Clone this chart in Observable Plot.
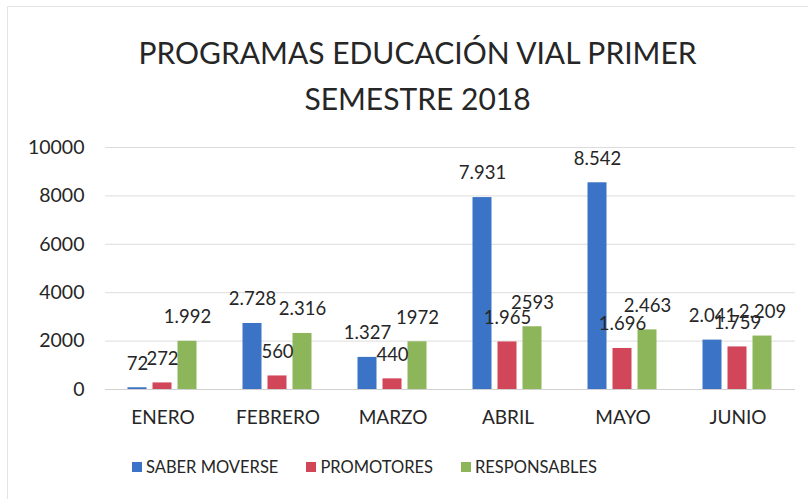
<!DOCTYPE html>
<html><head><meta charset="utf-8">
<script src="https://cdn.jsdelivr.net/npm/d3@7"></script>
<script src="https://cdn.jsdelivr.net/npm/@observablehq/plot@0.6"></script>
<style>
body{margin:0;background:#fff;font-family:Lato,sans-serif;color:#262626;width:809px;height:499px;position:relative;overflow:hidden}
#frame{position:absolute;left:7px;top:6px;width:800px;height:500px;border-left:1px solid #e4e4e4;border-top:1px solid #e4e4e4}
#title{position:absolute;left:0;width:835px;top:29px;text-align:center;font-size:30px;line-height:46px}
#chart{position:absolute;left:0;top:120px}
#legend{position:absolute;left:132px;top:457px;display:flex;font-size:16.5px;line-height:20px}
#legend .item{display:flex;align-items:center;margin-right:28px}
#legend .sw{width:10px;height:10px;margin-right:4px}
</style></head>
<body>
<div id="frame"></div>
<div id="title">PROGRAMAS EDUCACIÓN VIAL PRIMER<br>SEMESTRE 2018</div>
<div id="chart"></div>
<div id="legend"></div>
<script>
const months = ["ENERO","FEBRERO","MARZO","ABRIL","MAYO","JUNIO"];
const series = ["SABER MOVERSE","PROMOTORES","RESPONSABLES"];
const saber = [72,2728,1327,7931,8542,2041];
const promotores = [272,560,440,1965,1696,1759];
const responsables = [1992,2316,1972,2593,2463,2209];
const saberLabels = ["72","2.728","1.327","7.931","8.542","2.041"];
const promotoresLabels = ["272","560","440","1.965","1.696","1.759"];
const responsablesLabels = ["1.992","2.316","1972","2593","2.463","2.209"];
const yTicks = [0,2000,4000,6000,8000,10000];
const colors = ["#3b74c6","#d2465a","#8db65b"];

const values = [saber, promotores, responsables];
const labels = [saberLabels, promotoresLabels, responsablesLabels];
const rows = [];
months.forEach((m, i) => series.forEach((s, j) => rows.push({month: m, series: s, value: values[j][i], label: labels[j][i]})));

const chart = Plot.plot({
  width: 809, height: 319,
  marginTop: 27, marginLeft: 104.5, marginRight: 14.5, marginBottom: 50,
  style: {fontFamily: "Lato, sans-serif", fontSize: "18px", color: "#262626", background: "transparent"},
  fx: {domain: months, padding: 0, label: null},
  x: {domain: series, paddingInner: 0.235, paddingOuter: 0.87, axis: null},
  y: {domain: [0, 10000], label: null},
  color: {domain: series, range: colors},
  marks: [
    Plot.gridY(yTicks, {stroke: "#dcdcdc", strokeOpacity: 1}),
    Plot.ruleY([0], {stroke: "#d0d0d0"}),
    Plot.barY(rows, {fx: "month", x: "series", y: "value", fill: "series"}),
    Plot.text(rows, {fx: "month", x: "series", y: "value", text: "label", dy: -24, fontSize: 18.5, fill: "#262626"}),
    Plot.axisY({ticks: yTicks, tickSize: 0, tickPadding: 21, tickFormat: d => String(d), label: null, fontSize: 19.5, fill: "#262626"}),
    Plot.axisFx({anchor: "bottom", tickSize: 0, tickPadding: 21, label: null, fontSize: 19, fill: "#262626"})
  ]
});
document.getElementById("chart").appendChild(chart);

const legend = document.getElementById("legend");
series.forEach((s, j) => {
  const it = document.createElement("div"); it.className = "item";
  const sw = document.createElement("div"); sw.className = "sw"; sw.style.background = colors[j];
  const tx = document.createElement("span"); tx.textContent = s;
  it.appendChild(sw); it.appendChild(tx); legend.appendChild(it);
});
</script>
</body></html>
